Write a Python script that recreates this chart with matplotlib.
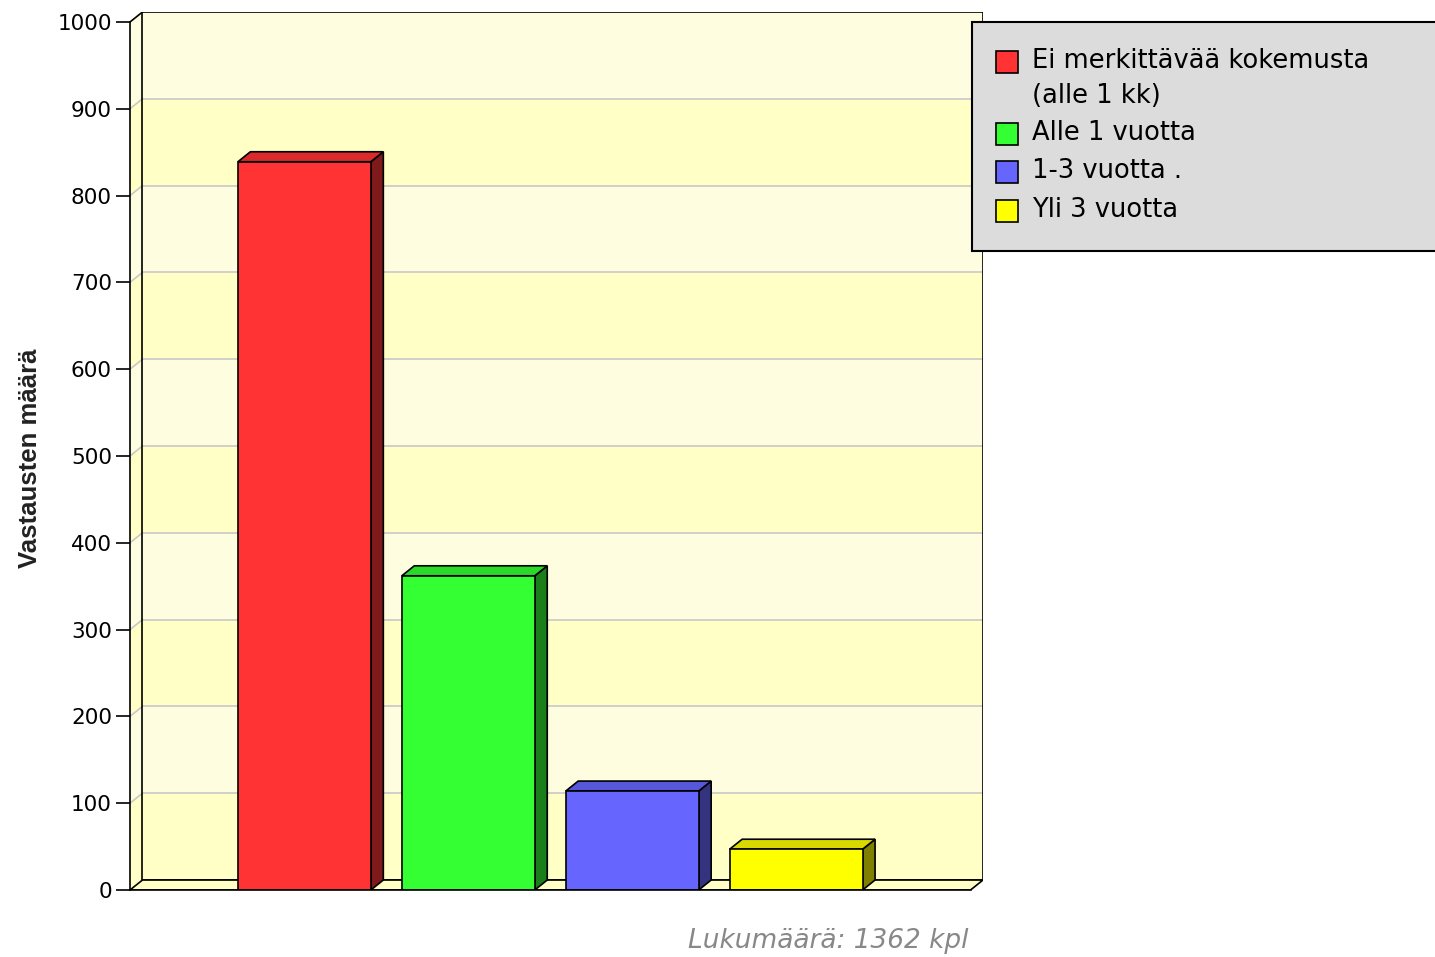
import matplotlib
matplotlib.use("Agg")
import matplotlib.pyplot as plt
from matplotlib.patches import Polygon, Rectangle

# data
categories = ["Ei merkittävää kokemusta\n(alle 1 kk)", "Alle 1 vuotta", "1-3 vuotta .", "Yli 3 vuotta"]
counts = [839, 362, 114, 47]
front_colors = ["#ff3333", "#33ff33", "#6666ff", "#ffff00"]
top_colors = ["#d92b2b", "#2bd92b", "#5757d9", "#d9d900"]
side_colors = ["#7f1a1a", "#1a7f1a", "#33337f", "#7f7f00"]
y_ticks = list(range(0, 1001, 100))
total_text = "Lukumäärä: 1362 kpl"

W, H = 1435, 957
fig = plt.figure(figsize=(W / 100, H / 100), dpi=100)
fig.patch.set_facecolor("white")

# axes area in pixels: front-left corner (130, 890), back-top-right (983, 12)
ax = fig.add_axes([130 / W, 67 / H, 853 / W, 878 / H])
ax.set_facecolor("none")

dx = 0.076   # depth offset in x (data units)
dy = 11.5    # depth offset in y (data units)
x0 = -1.064
x1 = 4.14
ax.set_xlim(x0, x1)
ax.set_ylim(0, 1000 + dy)

band_a = "#ffffc6"
band_b = "#fffde0"
grid_c = "#c8c8c8"
edge_kw = dict(edgecolor="black", linewidth=1.2)

# back wall bands and left wall bands
for k, lo in enumerate(y_ticks[:-1]):
    hi = lo + 100
    col = band_a if k % 2 == 0 else band_b
    ax.add_patch(Rectangle((x0 + dx, lo + dy), x1 - x0 - dx, 100, facecolor=col, edgecolor="none", zorder=1))
    ax.add_patch(Polygon([(x0, lo), (x0 + dx, lo + dy), (x0 + dx, hi + dy), (x0, hi)],
                         closed=True, facecolor=col, edgecolor="none", zorder=1))

# gridlines
for t in y_ticks[1:-1]:
    ax.plot([x0 + dx, x1], [t + dy, t + dy], color=grid_c, lw=1.2, zorder=2)
    ax.plot([x0, x0 + dx], [t, t + dy], color=grid_c, lw=1.2, zorder=2)

# back wall border
ax.add_patch(Rectangle((x0 + dx, dy), x1 - x0 - dx, 1000, facecolor="none", zorder=3, **edge_kw))
# left wall top edge
ax.plot([x0, x0 + dx], [1000, 1000 + dy], color="black", lw=1.2, zorder=3)

# floor
ax.add_patch(Polygon([(x0, 0), (x1 - dx, 0), (x1, dy), (x0 + dx, dy)],
                     closed=True, facecolor=band_a, zorder=3, **edge_kw))

# bars (front, top, side)
w = 0.811
for i, v in enumerate(counts):
    l, r = i - w / 2, i + w / 2
    ax.add_patch(Polygon([(r, 0), (r + dx, dy), (r + dx, v + dy), (r, v)],
                         closed=True, facecolor=side_colors[i], zorder=4, **edge_kw))
    ax.add_patch(Polygon([(l, v), (r, v), (r + dx, v + dy), (l + dx, v + dy)],
                         closed=True, facecolor=top_colors[i], zorder=4, **edge_kw))
    ax.add_patch(Rectangle((l, 0), w, v, facecolor=front_colors[i], zorder=5, **edge_kw))

# axis
for s in ["top", "right"]:
    ax.spines[s].set_visible(False)
ax.spines["left"].set_bounds(0, 1000)
ax.spines["bottom"].set_bounds(x0, x1 - dx)
for s in ["left", "bottom"]:
    ax.spines[s].set_linewidth(1.2)
    ax.spines[s].set_zorder(6)
ax.set_xticks([])
ax.set_yticks(y_ticks)
ax.set_yticklabels([str(t) for t in y_ticks], fontsize=15.5, fontfamily="DejaVu Sans")
ax.tick_params(axis="y", direction="out", length=10, width=1.2, pad=3)

fig.text(30 / W, 1 - 458 / H, "Vastausten määrä", rotation=90, ha="center", va="center",
         fontsize=18.5, fontweight="bold", fontfamily="Liberation Sans", color="#222222")

fig.text(968 / W, 1 - 941 / H, total_text, ha="right", va="center", fontsize=19,
         style="italic", color="#888888", fontfamily="DejaVu Sans")

# legend box
fig.patches.append(Rectangle((972 / W, 1 - 251 / H), 470 / W, 229 / H, transform=fig.transFigure,
                             facecolor="#dcdcdc", edgecolor="black", linewidth=1.5, zorder=10))
ys = [62, 134, 172, 211]
for i, lab in enumerate(categories):
    yc = ys[i]
    fig.patches.append(Rectangle((996 / W, 1 - (yc + 11) / H), 22 / W, 22 / H, transform=fig.transFigure,
                                 facecolor=front_colors[i], edgecolor="black", linewidth=1.2, zorder=11))
    fig.text(1032 / W, 1 - (yc - 14) / H, lab, ha="left", va="top",
             fontsize=18.5, fontfamily="DejaVu Sans", linespacing=1.45, zorder=12)

fig.savefig("out.png", dpi=100)
